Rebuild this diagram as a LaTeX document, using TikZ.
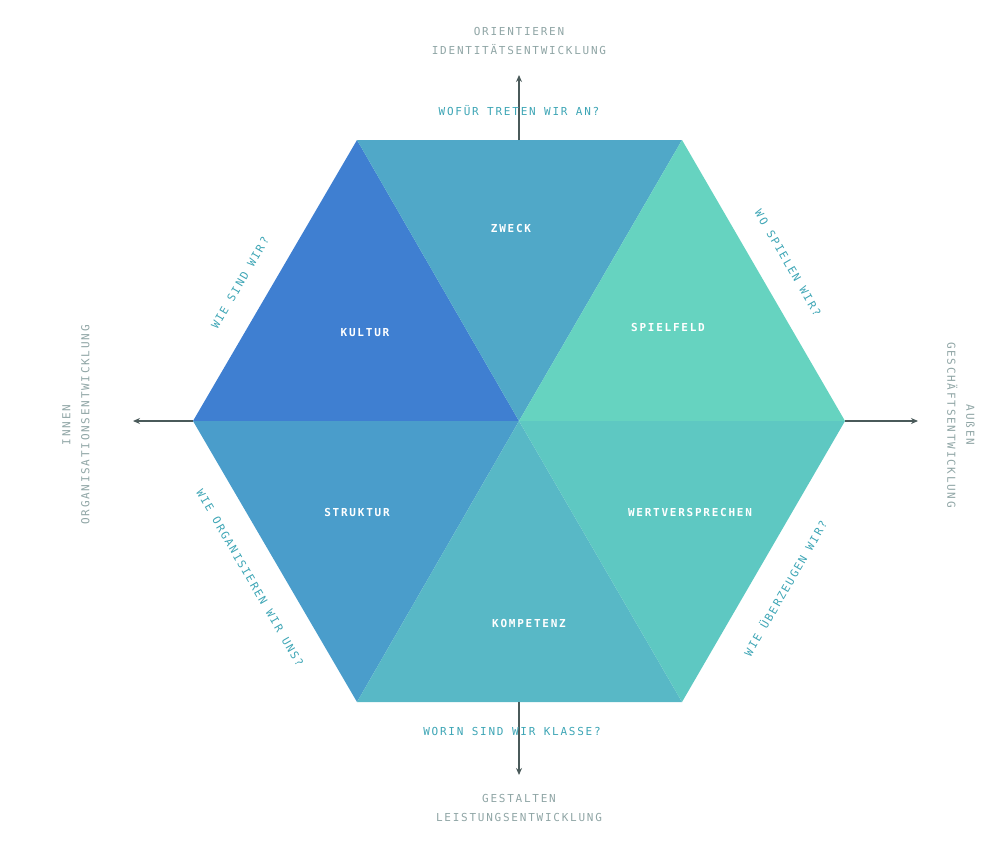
\documentclass[tikz,border=0pt]{standalone}
\usepackage{fontspec}
\setmainfont[LetterSpace=16]{DejaVu Sans Mono}
\usetikzlibrary{arrows.meta}
\definecolor{cKul}{HTML}{3F7FD1}
\definecolor{cZw}{HTML}{50A8C8}
\definecolor{cSp}{HTML}{66D3C0}
\definecolor{cSt}{HTML}{4A9DCB}
\definecolor{cKo}{HTML}{58B8C6}
\definecolor{cWe}{HTML}{5EC8C2}
\definecolor{cAx}{HTML}{4A5A5A}
\definecolor{cGr}{HTML}{8FA5A5}
\definecolor{cQ}{HTML}{3DA5B5}
\begin{document}
\begin{tikzpicture}[x=1pt,y=-1pt,
 lab/.style={text=white,font=\fontsize{11}{13}\selectfont\bfseries},
 q/.style={text=cQ,font=\fontsize{11}{13}\selectfont},
 g/.style={text=cGr,font=\fontsize{11}{13}\selectfont,align=center},
 ax/.style={draw=cAx,line width=1.3pt,-{Stealth[length=7pt,width=6pt]}}]
\useasboundingbox (0,0) rectangle (1000,840);
\coordinate (C) at (519,421);
\coordinate (L) at (193,421);
\coordinate (R) at (845,421);
\coordinate (TL) at (357,140);
\coordinate (TR) at (682,140);
\coordinate (BL) at (357,702);
\coordinate (BR) at (682,702);
\coordinate (T) at (519,140);
\coordinate (B) at (519,702);
\fill[cKul] (TL)--(L)--(C)--cycle;
\fill[cZw] (TL)--(TR)--(C)--cycle;
\fill[cSp] (TR)--(R)--(C)--cycle;
\fill[cSt] (L)--(BL)--(C)--cycle;
\fill[cKo] (BL)--(BR)--(C)--cycle;
\fill[cWe] (BR)--(R)--(C)--cycle;
\coordinate (AT) at (519,75);
\coordinate (AB) at (519,775);
\coordinate (AL) at (133,421);
\coordinate (AR) at (918,421);
\draw[ax] (T)--(AT);
\draw[ax] (B)--(AB);
\draw[ax] (L)--(AL);
\draw[ax] (R)--(AR);
\node[lab] (kul) at (365,333) {KULTUR};
\node[lab] (zw) at (511,228) {ZWECK};
\node[lab] (sp) at (668,327) {SPIELFELD};
\node[lab] (st) at (357,512) {STRUKTUR};
\node[lab] (ko) at (529,623) {KOMPETENZ};
\node[lab] (we) at (690,512) {WERTVERSPRECHEN};
\node[q] (q1) at (519,111) {WOFÜR TRETEN WIR AN?};
\node[q] (q2) at (512,731) {WORIN SIND WIR KLASSE?};
\node[q,rotate=60] (q3) at (240,283) {WIE SIND WIR?};
\node[q,rotate=-60] (q4) at (788,263) {WO SPIELEN WIR?};
\node[q,rotate=-60] (q5) at (250,578) {WIE ORGANISIEREN WIR UNS?};
\node[q,rotate=60] (q6) at (785,588) {WIE ÜBERZEUGEN WIR?};
\node[g] (g1) at (519,41) {ORIENTIEREN\\[6pt]IDENTITÄTSENTWICKLUNG};
\node[g] (g2) at (519,808) {GESTALTEN\\[6pt]LEISTUNGSENTWICKLUNG};
\node[g,rotate=90] (g3) at (76,425) {INNEN\\[6pt]ORGANISATIONSENTWICKLUNG};
\node[g,rotate=-90] (g4) at (961,425) {AUßEN\\[6pt]GESCHÄFTSENTWICKLUNG};
\end{tikzpicture}
\end{document}
